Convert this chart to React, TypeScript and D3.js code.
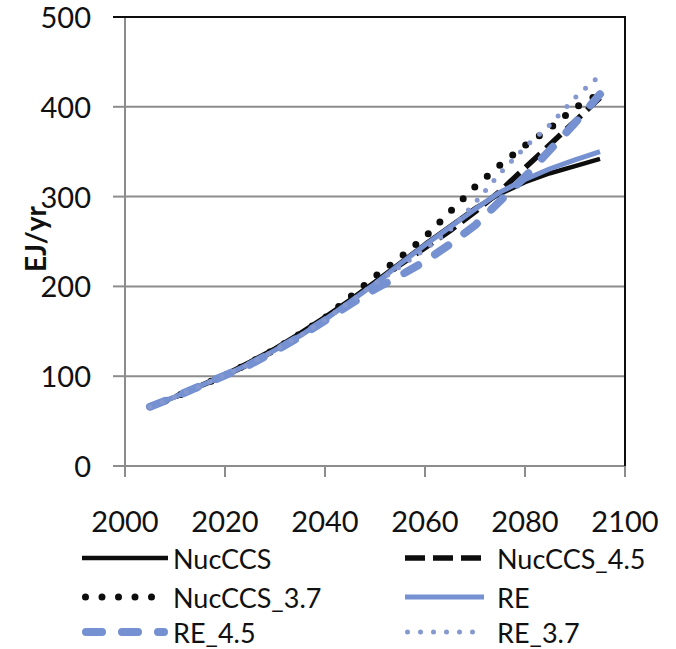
import React from "react";
import * as d3 from "d3";

// Primary energy demand scenarios, EJ per year
const years = [2005, 2010, 2015, 2020, 2025, 2030, 2035, 2040, 2045, 2050, 2055, 2060, 2065, 2070, 2075, 2080, 2085, 2090, 2095];
const nucCCS = [66, 77, 89, 102, 116, 131, 148, 166, 185, 205, 226, 247, 267, 287, 303, 316, 326, 334, 342];
const nucCCS45 = [66, 77, 89, 101, 114, 129, 146, 164, 184, 204, 224, 243, 262, 283, 306, 332, 358, 384, 410];
const nucCCS37 = [66, 77, 89, 101, 115, 130, 147, 165, 188, 211, 232, 255, 283, 311, 335, 357, 376, 399, 415];
const re = [66, 77, 89, 101, 114, 129, 145, 163, 183, 203, 225, 246, 266, 286, 305, 319, 331, 341, 350];
const re45 = [66, 77, 89, 101, 113, 128, 144, 162, 180, 197, 212, 228, 247, 268, 295, 322, 352, 382, 414];
const re37 = [66, 77, 89, 101, 114, 129, 145, 163, 183, 203, 222, 241, 263, 293, 326, 355, 380, 410, 435];

const seriesNames = ["NucCCS", "NucCCS_4.5", "NucCCS_3.7", "RE", "RE_4.5", "RE_3.7"];
const seriesValues = [nucCCS, nucCCS45, nucCCS37, re, re45, re37];

const xTicks = [2000, 2020, 2040, 2060, 2080, 2100];
const yTicks = [0, 100, 200, 300, 400, 500];

const BLACK = "#0d0d0d";
const BLUE = "#7591d1";
const BLUE_DOT = "#8598cf";

type Style = { color: string; width: number; dash?: string; cap: "butt" | "round" };
const styles: Style[] = [
  { color: BLACK, width: 4.5, cap: "butt" },
  { color: BLACK, width: 5.5, dash: "20 8", cap: "butt" },
  { color: BLACK, width: 7, dash: "0 16.5", cap: "round" },
  { color: BLUE, width: 5, cap: "butt" },
  { color: BLUE, width: 8, dash: "16 20", cap: "round" },
  { color: BLUE_DOT, width: 5, dash: "0 13", cap: "round" },
];

const FONT = "Lato, 'Open Sans', sans-serif";

export default function App() {
  const W = 676;
  const H = 649;
  const left = 125;
  const right = 625;
  const top = 17;
  const bottom = 466;

  const x = d3.scaleLinear().domain([2000, 2100]).range([left, right]);
  const y = d3.scaleLinear().domain([0, 500]).range([bottom, top]);

  const line = d3
    .line<number>()
    .x((_, i) => x(years[i]))
    .y((d) => y(d));

  const grid = "#8c8c8c";

  // legend layout: two columns, three rows
  const legendCols = [
    { x0: 82, x1: 168, tx: 173 },
    { x0: 405, x1: 484, tx: 497 },
  ];
  const legendRows = [558, 597, 632];

  return (
    <svg
      width={W}
      height={H}
      style={{ position: "absolute", left: 0, top: 0, background: "#fff" }}
      fontFamily={FONT}
    >
      <rect x={0} y={0} width={W} height={H} fill="#fff" />

      {/* horizontal gridlines */}
      {yTicks.slice(1, -1).map((t) => (
        <line key={"g" + t} x1={left} x2={right} y1={y(t)} y2={y(t)} stroke={grid} strokeWidth={2} />
      ))}

      {/* y axis */}
      <line x1={left} x2={left} y1={top} y2={bottom} stroke={grid} strokeWidth={2} />
      {yTicks.map((t) => (
        <g key={"y" + t}>
          <line x1={left - 12} x2={left} y1={y(t)} y2={y(t)} stroke={t === 500 ? BLACK : grid} strokeWidth={2} />
          <text x={91} y={y(t) + 11} textAnchor="end" fontSize={29} fill="#111">
            {t}
          </text>
        </g>
      ))}

      {/* x axis */}
      <line x1={left} x2={right} y1={bottom} y2={bottom} stroke={grid} strokeWidth={2} />
      {xTicks.map((t) => (
        <g key={"x" + t}>
          <line x1={x(t)} x2={x(t)} y1={bottom} y2={bottom + 11} stroke={grid} strokeWidth={2} />
          <text x={x(t)} y={532} textAnchor="middle" fontSize={29} fill="#111">
            {t}
          </text>
        </g>
      ))}

      {/* plot frame */}
      <line x1={left - 12} x2={right + 1} y1={top} y2={top} stroke={BLACK} strokeWidth={2} />
      <line x1={right} x2={right} y1={top} y2={bottom} stroke={BLACK} strokeWidth={2} />

      {/* y axis title */}
      <text
        transform={`translate(46, 239) rotate(-90)`}
        textAnchor="middle"
        fontSize={28}
        fontWeight="bold"
        fill="#111"
      >
        EJ/yr
      </text>

      {/* series */}
      {seriesValues.map((vals, i) => {
        const s = styles[i];
        return (
          <path
            key={seriesNames[i]}
            d={line(vals) ?? ""}
            fill="none"
            stroke={s.color}
            strokeWidth={s.width}
            strokeDasharray={s.dash}
            strokeLinecap={s.cap}
            strokeLinejoin="round"
          />
        );
      })}

      {/* legend */}
      {seriesNames.map((name, i) => {
        const s = styles[i];
        const col = legendCols[i % 2];
        const ly = legendRows[Math.floor(i / 2)];
        const pad = s.cap === "round" ? s.width / 2 : 0;
        return (
          <g key={"l" + name}>
            <line
              x1={col.x0 + pad}
              x2={col.x1 - pad}
              y1={ly}
              y2={ly}
              stroke={s.color}
              strokeWidth={s.width}
              strokeDasharray={s.dash}
              strokeLinecap={s.cap}
            />
            <text x={col.tx} y={ly + 11} fontSize={27} fill="#111">
              {name}
            </text>
          </g>
        );
      })}
    </svg>
  );
}
